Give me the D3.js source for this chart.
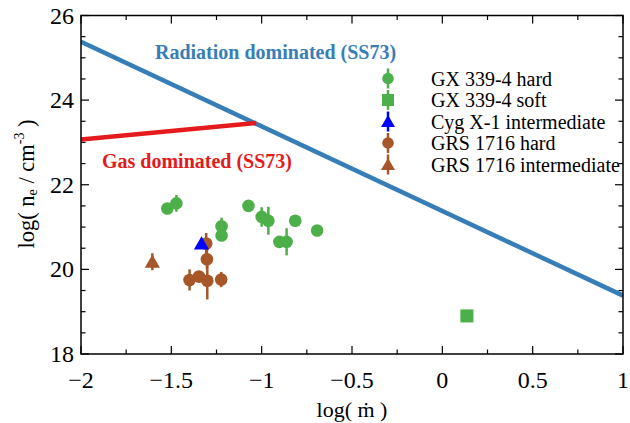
<!DOCTYPE html>
<html>
<head>
<meta charset="utf-8">
<script src="https://cdn.jsdelivr.net/npm/d3@7"></script>
<style>
  body { margin: 0; background: #fff; }
  svg { font-family: "Liberation Serif", "Times New Roman", serif; }
</style>
</head>
<body>
<svg id="chart" width="630" height="423"></svg>
<script>
// axis ticks
const xTicks = [-2, -1.5, -1, -0.5, 0, 0.5, 1];
const yTicks = [18, 20, 22, 24, 26];

// SS73 lines: [log mdot, log ne]
const radiationLine = [[-2, 25.38], [1, 19.38]];
const gasLine = [[-2, 23.07], [-1.03, 23.46]];

// series: [log mdot, log ne, error]
const gxHard = [
  [-1.522, 21.44, 0.1], [-1.472, 21.56, 0.2], [-1.222, 21.02, 0.2], [-1.222, 20.80, 0.1],
  [-1.073, 21.50, 0.1], [-1.0, 21.24, 0.23], [-0.963, 21.15, 0.33], [-0.814, 21.15, 0.1],
  [-0.902, 20.65, 0.1], [-0.862, 20.65, 0.32], [-0.693, 20.92, 0.1]
];
const gxSoft = [[0.136, 18.90, 0.05]];
const cygInter = [[-1.333, 20.61, 0.05]];
const grsHard = [
  [-1.307, 20.61, 0.25], [-1.303, 20.24, 0.24], [-1.399, 19.75, 0.25], [-1.347, 19.83, 0.1],
  [-1.301, 19.73, 0.44], [-1.224, 19.76, 0.18]
];
const grsInter = [[-1.605, 20.18, 0.2]];

const seriesNames = ["GX 339-4 hard", "GX 339-4 soft", "Cyg X-1 intermediate", "GRS 1716 hard", "GRS 1716 intermediate"];

const series = [
  { name: seriesNames[0], data: gxHard, color: "#4daf4a", shape: "circle" },
  { name: seriesNames[1], data: gxSoft, color: "#4daf4a", shape: "square" },
  { name: seriesNames[2], data: cygInter, color: "#0000ff", shape: "triangle" },
  { name: seriesNames[3], data: grsHard, color: "#a65628", shape: "circle" },
  { name: seriesNames[4], data: grsInter, color: "#a65628", shape: "triangle" }
];
// Cyg X-1 sits on top of the GRS points
const drawOrder = [0, 1, 3, 4, 2];

const pLeft = 81, pRight = 623, pTop = 15.5, pBottom = 354;

const svg = d3.select("#chart");
const x = d3.scaleLinear().domain([-2, 1]).range([pLeft, pRight]);
const y = d3.scaleLinear().domain([18, 26]).range([pBottom, pTop]);

svg.append("clipPath").attr("id", "clip")
  .append("rect").attr("x", pLeft).attr("y", pTop).attr("width", pRight - pLeft).attr("height", pBottom - pTop);

const plot = svg.append("g").attr("clip-path", "url(#clip)");

const line = d3.line().x(d => x(d[0])).y(d => y(d[1]));
plot.append("path").datum(radiationLine).attr("d", line)
  .attr("fill", "none").attr("stroke", "#377eb8").attr("stroke-width", 4.5);
plot.append("path").datum(gasLine).attr("d", line)
  .attr("fill", "none").attr("stroke", "#e41a1c").attr("stroke-width", 4.5);

function symbolFor(shape, size) {
  const t = shape === "circle" ? d3.symbolCircle : shape === "square" ? d3.symbolSquare : d3.symbolTriangle;
  return d3.symbol().type(t).size(size)();
}
const sizes = { circle: 125, square: 170, triangle: 100 };

drawOrder.forEach(k => {
  const s = series[k];
  const g = plot.append("g");
  g.selectAll("line").data(s.data).enter().append("line")
    .attr("x1", d => x(d[0])).attr("x2", d => x(d[0]))
    .attr("y1", d => y(d[1] - d[2])).attr("y2", d => y(d[1] + d[2]))
    .attr("stroke", s.color).attr("stroke-width", 2.5);
  g.selectAll("path").data(s.data).enter().append("path")
    .attr("d", symbolFor(s.shape, sizes[s.shape]))
    .attr("transform", d => "translate(" + x(d[0]) + "," + (y(d[1]) + (s.shape === "triangle" ? 1.5 : 0)) + ")")
    .attr("fill", s.color);
});

// frame and ticks
const axisG = svg.append("g").attr("stroke", "#000");
axisG.append("rect").attr("x", pLeft).attr("y", pTop).attr("width", pRight - pLeft).attr("height", pBottom - pTop)
  .attr("fill", "none").attr("stroke-width", 1.5);

const xMinor = d3.range(-2, 1.001, 0.25);
const yMinor = d3.range(18, 26.001, 0.5);
xMinor.forEach(v => {
  const len = xTicks.some(t => Math.abs(t - v) < 1e-6) ? 8 : 4.5;
  axisG.append("line").attr("x1", x(v)).attr("x2", x(v)).attr("y1", pBottom).attr("y2", pBottom - len).attr("stroke-width", 1.2);
  axisG.append("line").attr("x1", x(v)).attr("x2", x(v)).attr("y1", pTop).attr("y2", pTop + len).attr("stroke-width", 1.2);
});
yMinor.forEach(v => {
  const len = yTicks.some(t => Math.abs(t - v) < 1e-6) ? 8 : 4.5;
  axisG.append("line").attr("x1", pLeft).attr("x2", pLeft + len).attr("y1", y(v)).attr("y2", y(v)).attr("stroke-width", 1.2);
  axisG.append("line").attr("x1", pRight).attr("x2", pRight - len).attr("y1", y(v)).attr("y2", y(v)).attr("stroke-width", 1.2);
});

const fmt = d3.format("");
svg.append("g").selectAll("text").data(xTicks).enter().append("text")
  .attr("x", d => x(d)).attr("y", pBottom + 34)
  .attr("text-anchor", "middle").attr("font-size", 24).text(d => fmt(d));
svg.append("g").selectAll("text").data(yTicks).enter().append("text")
  .attr("x", pLeft - 7).attr("y", d => y(d) + 8)
  .attr("text-anchor", "end").attr("font-size", 24).text(d => fmt(d));

// axis titles
svg.append("text").attr("x", (pLeft + pRight) / 2).attr("y", 417)
  .attr("text-anchor", "middle").attr("font-size", 22).text("log( ṁ )");

const yt = svg.append("text").attr("transform", "translate(34," + 184 + ") rotate(-90)")
  .attr("text-anchor", "middle").attr("font-size", 22.5);
yt.append("tspan").text("log( n");
yt.append("tspan").attr("font-size", 14).attr("dy", 3).text("e");
yt.append("tspan").attr("dy", -3).text(" / cm");
yt.append("tspan").attr("font-size", 14).attr("dy", -10).text("-3");
yt.append("tspan").attr("dy", 10).text(" )");

// line labels
svg.append("text").attr("x", 155).attr("y", 59).attr("font-size", 20).attr("font-weight", "bold")
  .attr("fill", "#377eb8").text("Radiation dominated (SS73)");
svg.append("text").attr("x", 102).attr("y", 167.5).attr("font-size", 20).attr("font-weight", "bold")
  .attr("fill", "#e41a1c").text("Gas dominated (SS73)");

// legend
const legend = svg.append("g");
series.forEach((s, i) => {
  const ly = 78.5 + i * 21.5;
  legend.append("line").attr("x1", 388).attr("x2", 388).attr("y1", ly - 10).attr("y2", ly + 10)
    .attr("stroke", s.color).attr("stroke-width", 2.5);
  legend.append("path").attr("d", symbolFor(s.shape, sizes[s.shape] * 0.85))
    .attr("transform", "translate(388," + (ly + (s.shape === "triangle" ? 1.5 : 0)) + ")")
    .attr("fill", s.color);
  legend.append("text").attr("x", 431).attr("y", ly + 7).attr("font-size", 20).text(s.name);
});
</script>
</body>
</html>
